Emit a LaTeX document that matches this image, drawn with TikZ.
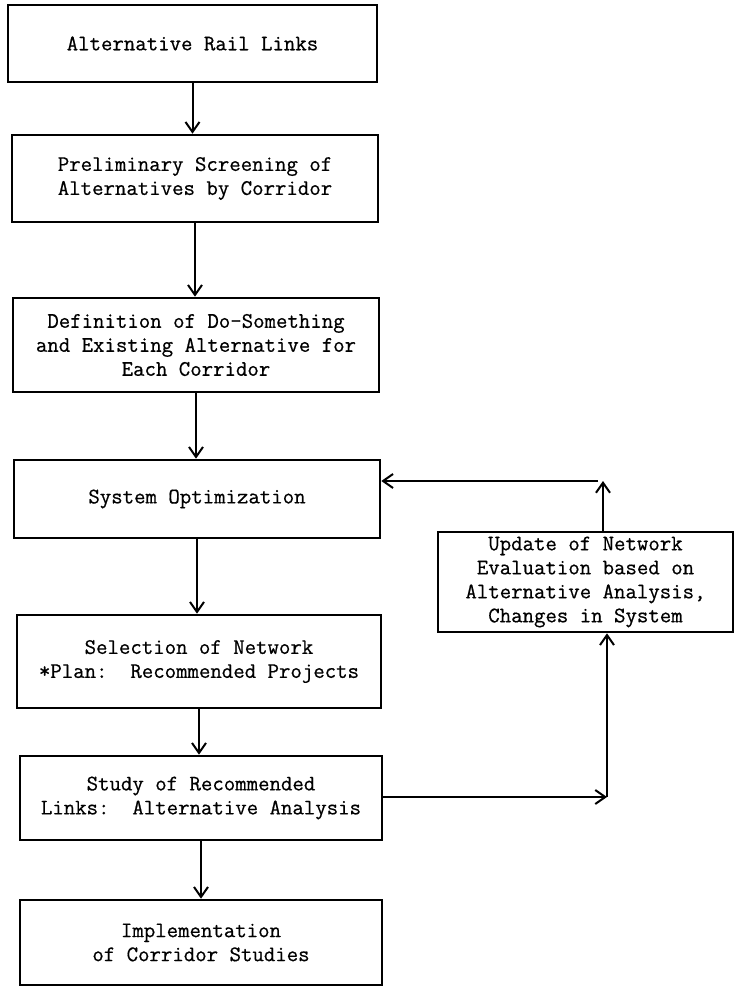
\documentclass[tikz,border=0pt]{standalone}
\usepackage{fontspec}
\setmonofont{Latin Modern Mono}[FakeBold=0.6]
\usetikzlibrary{arrows.meta}

\begin{document}
\begin{tikzpicture}[x=0.5pt, y=-0.5pt,
  box/.style={draw, line width=1.3pt, align=center, inner sep=0pt,
    font={\ttfamily\fontsize{11.1pt}{12pt}\selectfont}},
  arr/.style={line width=1pt, -{Straight Barb[length=5pt,width=7pt,line width=1pt]}}]
  \useasboundingbox (0,0) rectangle (734,987);

  % main column of steps
  \node[box, minimum width=184.5pt, minimum height=38.5pt] (b1) at (192.5,43.5)
    {Alternative Rail Links};
  \node[box, minimum width=183pt, minimum height=43.5pt] (b2) at (195,178.5)
    {Preliminary Screening of\\Alternatives by Corridor};
  \node[box, minimum width=183pt, minimum height=47pt] (b3) at (196,345)
    {Definition of Do-Something\\and Existing Alternative for\\Each Corridor};
  \node[box, minimum width=183pt, minimum height=39pt] (b4) at (197,499)
    {System Optimization};
  \node[box, minimum width=182pt, minimum height=46.5pt] (b5) at (199,661.5)
    {Selection of Network\\*Plan:\ \ Recommended Projects};
  \node[box, minimum width=181pt, minimum height=42pt] (b6) at (201,798)
    {Study of Recommended\\Links:\ \ Alternative Analysis};
  \node[box, minimum width=181pt, minimum height=42.5pt] (b7) at (201,942.5)
    {Implementation\\of Corridor Studies};

  % feedback step on the right
  \node[box, minimum width=147.5pt, minimum height=50pt] (upd) at (585.5,582)
    {Update of Network\\Evaluation based on\\Alternative Analysis,\\Changes in System};

  % corners of the feedback loop
  \coordinate (fb) at (603,481);
  \coordinate (lc) at (607,797);

  % downward flow
  \draw[arr] (b1.south) -- (b1.south |- b2.north);
  \draw[arr] (b2.south) -- (b2.south |- b3.north);
  \draw[arr] (b3.south) -- (b3.south |- b4.north);
  \draw[arr] (b4.south) -- (b4.south |- b5.north);
  \draw[arr] (b5.south) -- (b5.south |- b6.north);
  \draw[arr] (b6.south) -- (b6.south |- b7.north);

  % feedback loop
  \draw[arr] (b6.east |- lc) -- (lc);
  \draw[arr] (lc) -- (lc |- upd.south);
  \draw[arr] (upd.north -| fb) -- (fb);
  \draw[arr] ([xshift=-2.5pt]fb) -- (fb -| b4.east);
\end{tikzpicture}
\end{document}
